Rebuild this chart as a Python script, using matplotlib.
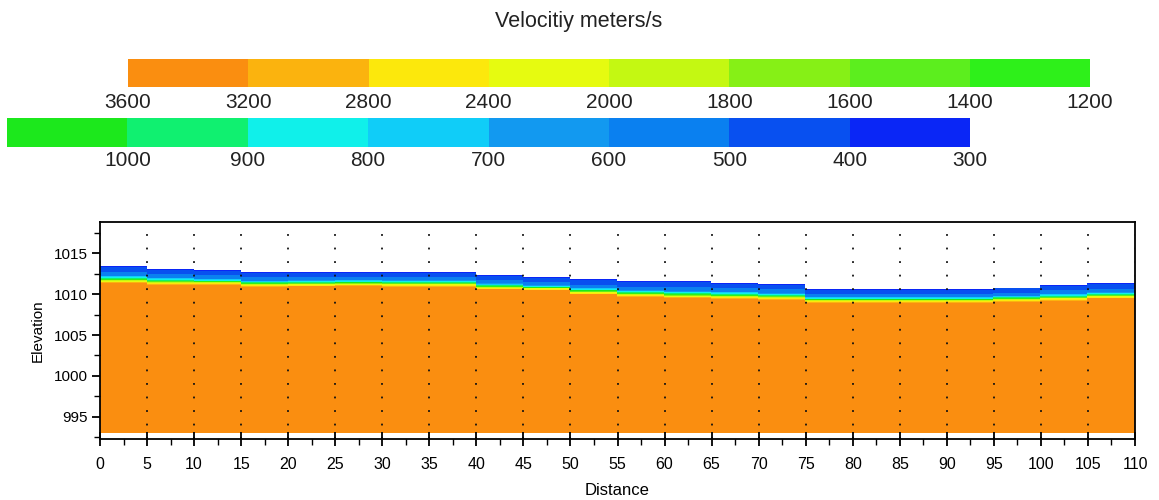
import numpy as np
import matplotlib
matplotlib.use("Agg")
import matplotlib.pyplot as plt
from matplotlib.colors import ListedColormap, BoundaryNorm
from matplotlib.ticker import MultipleLocator

plt.rcParams["font.family"] = ["Liberation Sans", "DejaVu Sans"]

# -----------------------------
# Legend: velocity classes (m/s)
# -----------------------------
LEVELS = [300, 400, 500, 600, 700, 800, 900, 1000, 1200, 1400, 1600,
          1800, 2000, 2400, 2800, 3200, 3600]
LEVEL_COLORS = ["#0a26f6", "#0850f0", "#0a80f0", "#1299f0", "#10cdf8",
                "#10f0ea", "#10f070", "#1ce81c", "#2ef01a", "#5cee1e",
                "#86f016", "#c4f812", "#e6fb10", "#fce80c", "#fbb30e",
                "#fa8e10"]
TOP_LABELS = ["3600", "3200", "2800", "2400", "2000", "1800", "1600", "1400", "1200"]
BOTTOM_LABELS = ["1000", "900", "800", "700", "600", "500", "400", "300"]

# -----------------------------
# Section, one value per 5 m station
# -----------------------------
STATIONS = [0, 5, 10, 15, 20, 25, 30, 35, 40, 45, 50, 55, 60, 65, 70, 75,
            80, 85, 90, 95, 100, 105]
SURFACE = [1013.4, 1013.1, 1013.0, 1012.7, 1012.65, 1012.65, 1012.65,
           1012.65, 1012.3, 1012.1, 1011.8, 1011.6, 1011.6, 1011.4, 1011.2,
           1010.6, 1010.6, 1010.6, 1010.6, 1010.8, 1011.1, 1011.3]
WEATHERED_DEPTH = [1.15, 1.1, 1.1, 1.05, 0.95, 0.9, 0.95, 0.95, 1.0, 1.0,
                   1.05, 1.1, 1.2, 1.1, 1.05, 0.95, 0.95, 0.95, 0.95, 1.0,
                   1.05, 1.05]
BEDROCK_DEPTH = [2.1, 2.0, 1.9, 1.8, 1.7, 1.7, 1.75, 1.75, 1.75, 1.65, 1.85,
                 1.95, 2.15, 2.05, 1.95, 1.65, 1.65, 1.65, 1.65, 1.75, 1.95, 1.85]
BASE_ELEVATION = 993.1
X_MAX = 110

# velocity at relative positions inside each column
PROFILE_V = [380, 470, 600, 1000, 3300, 3400]


def velocity_grid():
    x = np.linspace(0, X_MAX, 1101)
    y = np.linspace(BASE_ELEVATION, 1014.5, 900)
    idx = np.clip(np.searchsorted(STATIONS, x, side="right") - 1, 0, len(STATIONS) - 1)
    top = np.array(SURFACE)[idx]
    d1 = np.array(WEATHERED_DEPTH)[idx]
    d2 = np.array(BEDROCK_DEPTH)[idx]
    v = np.full((len(y), len(x)), np.nan)
    for j in range(len(x)):
        depth = top[j] - y
        knots = [0, 0.5 * d1[j], d1[j], d1[j] + 0.4 * (d2[j] - d1[j]), d2[j], 50]
        col = np.interp(depth, knots, PROFILE_V)
        col[depth < 0] = np.nan
        v[:, j] = col
    return x, y, v


def main():
    fig = plt.figure(figsize=(11.59, 5.0), dpi=100)
    W, H = 1159, 500

    fig.text(579 / W, 1 - 22 / H, "Velocitiy meters/s", ha="center", va="center",
             fontsize=15.5, color="#222222")

    # top legend bar (3600 -> 1200)
    top_cols = LEVEL_COLORS[::-1][:8]
    ax_t = fig.add_axes([128 / W, 1 - 87 / H, 962 / W, 28 / H])
    ax_t.bar(np.arange(8) + 0.5, 1, width=1.0, color=top_cols, linewidth=0)
    ax_t.set_xlim(0, 8)
    ax_t.set_ylim(0, 1)
    ax_t.set_xticks(range(9))
    ax_t.set_xticklabels(TOP_LABELS, fontsize=15, color="#222222")
    ax_t.tick_params(axis="x", length=0, pad=4)
    ax_t.set_yticks([])
    for s in ax_t.spines.values():
        s.set_visible(False)

    # bottom legend bar (1200 -> 300)
    bot_cols = LEVEL_COLORS[::-1][8:]
    ax_b = fig.add_axes([7 / W, 1 - 147 / H, 963 / W, 29 / H])
    ax_b.bar(np.arange(8) + 0.5, 1, width=1.0, color=bot_cols, linewidth=0)
    ax_b.set_xlim(0, 8)
    ax_b.set_ylim(0, 1)
    ax_b.set_xticks(range(1, 9))
    ax_b.set_xticklabels(BOTTOM_LABELS, fontsize=15, color="#222222")
    ax_b.tick_params(axis="x", length=0, pad=3)
    ax_b.set_yticks([])
    for s in ax_b.spines.values():
        s.set_visible(False)

    # velocity section
    ax = fig.add_axes([100 / W, 1 - 439 / H, 1035 / W, 217 / H])
    x, y, v = velocity_grid()
    cmap = ListedColormap(LEVEL_COLORS)
    norm = BoundaryNorm(LEVELS, cmap.N)
    ax.pcolormesh(x, y, v, cmap=cmap, norm=norm, shading="auto", rasterized=True)

    ax.set_xlim(0, X_MAX)
    ax.set_ylim(992.3, 1018.8)
    ax.xaxis.set_major_locator(MultipleLocator(5))
    ax.xaxis.set_minor_locator(MultipleLocator(2.5))
    ax.yaxis.set_minor_locator(MultipleLocator(2.5))
    ax.set_yticks([995, 1000, 1005, 1010, 1015])
    ax.tick_params(axis="x", which="major", direction="inout", length=10, width=1.3,
                   labelsize=11.5, pad=8)
    ax.tick_params(axis="x", which="minor", direction="out", length=4, width=1)
    ax.tick_params(axis="y", which="major", direction="out", length=6, width=1.3,
                   labelsize=11, pad=3)
    ax.tick_params(axis="y", which="minor", direction="out", length=4, width=1)
    for s in ax.spines.values():
        s.set_linewidth(1.3)

    ax.grid(axis="x", which="major", color="#111111", linewidth=1.3,
            linestyle=(0, (1, 6.5)))
    ax.set_axisbelow(False)

    ax.set_xlabel("Distance", fontsize=12, labelpad=8)
    ax.set_ylabel("Elevation", fontsize=11, labelpad=6)

    fig.savefig("out.png", dpi=100)
    plt.close(fig)


if __name__ == "__main__":
    main()
